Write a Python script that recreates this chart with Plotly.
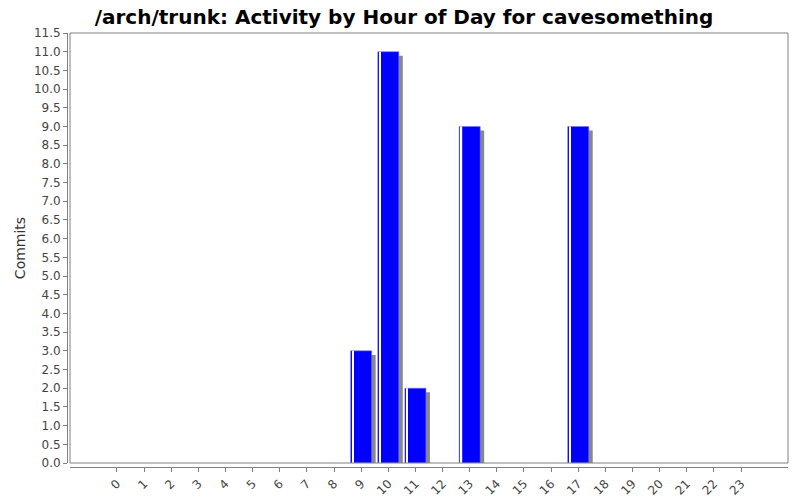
import plotly.graph_objects as go

hours = list(range(24))
hour_labels = [str(h) for h in hours]
commits = [0, 0, 0, 0, 0, 0, 0, 0, 0, 3, 11, 2, 0, 9, 0, 0, 0, 9, 0, 0, 0, 0, 0, 0]
y_ticks = [i * 0.5 for i in range(24)]

BAR_W = 0.774
SHADOW_DX = 0.147
SHADOW_DY = 0.11

# the page puts the figure 8px in from the top-left, so size it to fit the window
W, H = 792, 492
L, R, T, B = 59, 12, 25, 33
PLOT_W = W - L - R
PLOT_H = H - T - B

fig = go.Figure()

# drop shadow behind each bar
fig.add_trace(go.Bar(x=hours, y=[c - SHADOW_DY if c > 0 else None for c in commits],
                     width=BAR_W, offset=-BAR_W / 2 + SHADOW_DX,
                     marker=dict(color="#888888", line_width=0), hoverinfo="skip"))

fig.add_trace(go.Bar(x=hours, y=[c if c > 0 else None for c in commits],
                     width=BAR_W, offset=-BAR_W / 2,
                     marker=dict(color="#0000ff", line=dict(color="#7070ff", width=0.6)),
                     name="Commits"))

# thin highlight stripe near left edge
fig.add_trace(go.Bar(x=hours, y=[c if c > 0 else None for c in commits],
                     width=0.06, offset=-BAR_W / 2 + 0.05,
                     marker=dict(color="white", line_width=0), hoverinfo="skip"))

fig.update_layout(
    width=W, height=H,
    margin=dict(l=L, r=R, t=T, b=B, autoexpand=False),
    barmode="overlay",
    showlegend=False,
    paper_bgcolor="white",
    plot_bgcolor="white",
    font=dict(family="DejaVu Sans", size=12, color="#444444"),
    title=dict(text="<b>/arch/trunk: Activity by Hour of Day for cavesomething</b>",
               x=0.5, xanchor="center", y=1 - 2 / H, yanchor="top", yref="container",
               font=dict(family="DejaVu Sans", size=20, color="black")),
    shapes=[dict(type="rect", xref="paper", yref="paper", x0=3 / PLOT_W, x1=1, y0=4 / PLOT_H, y1=1,
                 line=dict(color="#808080", width=1), layer="above")],
)

fig.update_xaxes(domain=[3 / PLOT_W, 1], range=[-1.73, 24.73],
                 tickvals=hours, ticktext=hour_labels, tickangle=-45,
                 ticks="outside", ticklen=4, tickcolor="#808080",
                 showline=True, linecolor="#808080", linewidth=1,
                 showgrid=False, zeroline=False, anchor="free", position=0,
                 automargin=False)

fig.update_yaxes(domain=[4 / PLOT_H, 1], range=[0, 11.5],
                 tickvals=y_ticks, tickformat=".1f",
                 ticks="outside", ticklen=4, tickcolor="#808080",
                 showline=True, linecolor="#808080", linewidth=1,
                 showgrid=False, zeroline=False, anchor="free", position=0,
                 automargin=False,
                 title=dict(text="Commits", font=dict(size=14, color="#333333"), standoff=3))

fig.write_html("out.html")
